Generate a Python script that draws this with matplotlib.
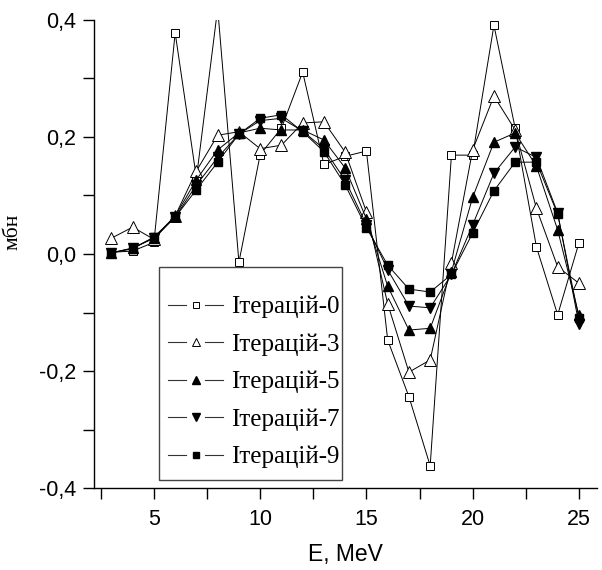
import matplotlib
matplotlib.use("Agg")
import matplotlib.pyplot as plt
import numpy as np
from matplotlib.ticker import MultipleLocator, FuncFormatter
from matplotlib.patches import Rectangle
from matplotlib.lines import Line2D
from matplotlib.legend_handler import HandlerBase

energy = np.arange(3, 26)

iter0 = [0.003, 0.005, 0.020, 0.378, 0.130, 0.420, -0.014, 0.170, 0.215, 0.311, 0.153, 0.167,
         0.176, -0.147, -0.244, -0.362, 0.169, 0.169, 0.391, 0.215, 0.012, -0.104, 0.019]
iter3 = [0.027, 0.046, 0.025, 0.065, 0.142, 0.203, 0.209, 0.180, 0.186, 0.224, 0.226, 0.174,
         0.072, -0.085, -0.202, -0.181, -0.015, 0.178, 0.270, 0.212, 0.078, -0.022, -0.050]
iter5 = [0.002, 0.010, 0.028, 0.065, 0.127, 0.178, 0.207, 0.215, 0.212, 0.212, 0.195, 0.147,
         0.060, -0.055, -0.130, -0.127, -0.030, 0.097, 0.191, 0.207, 0.150, 0.041, -0.105]
iter7 = [0.002, 0.010, 0.027, 0.063, 0.118, 0.165, 0.205, 0.228, 0.232, 0.210, 0.180, 0.126,
         0.050, -0.027, -0.089, -0.092, -0.035, 0.050, 0.138, 0.183, 0.165, 0.070, -0.120]
iter9 = [0.002, 0.009, 0.029, 0.063, 0.110, 0.157, 0.205, 0.232, 0.238, 0.209, 0.175, 0.118,
         0.045, -0.019, -0.060, -0.065, -0.035, 0.036, 0.108, 0.157, 0.157, 0.068, -0.110]

labels = ["Ітерацій-0", "Ітерацій-3", "Ітерацій-5", "Ітерацій-7", "Ітерацій-9"]


class GapLineHandler(HandlerBase):
    # line - marker - line, with small gaps around the marker (Origin style)
    def create_artists(self, legend, orig, xd, yd, width, height, fontsize, trans):
        y = height / 2 - yd
        gap = 0.17 * width
        mid = width / 2 - xd
        left = Line2D([-xd, mid - gap], [y, y], color="#333333", lw=0.8, transform=trans)
        right = Line2D([mid + gap, width - xd], [y, y], color="#333333", lw=0.8, transform=trans)
        mk = Line2D([mid], [y], ls="", marker=orig.get_marker(), ms=orig.get_markersize() * 0.75,
                    mfc=orig.get_markerfacecolor(), mec=orig.get_markeredgecolor(),
                    mew=orig.get_markeredgewidth(), transform=trans)
        return [left, right, mk]


fig = plt.figure(figsize=(6.02, 5.70), dpi=100)
ax = fig.add_axes([94/602, 1-488/570, 503/602, 468/570])

lw = 0.7
ax.plot(energy, iter0, color="black", lw=lw, marker="s", ms=5.5, mfc="white", mec="black", mew=0.7, label=labels[0])
ax.plot(energy, iter3, color="black", lw=lw, marker="^", ms=8, mfc="white", mec="black", mew=0.7, label=labels[1])
ax.plot(energy, iter5, color="black", lw=lw, marker="^", ms=7, mfc="black", mec="black", label=labels[2])
ax.plot(energy, iter7, color="black", lw=lw, marker="v", ms=7, mfc="black", mec="black", label=labels[3])
ax.plot(energy, iter9, color="black", lw=lw, marker="s", ms=6, mfc="black", mec="black", label=labels[4])

ax.set_xlim(2.18, 25.85)
ax.set_ylim(-0.4, 0.4)
ax.xaxis.set_major_locator(MultipleLocator(5))
ax.xaxis.set_minor_locator(MultipleLocator(2.5))
ax.yaxis.set_major_locator(MultipleLocator(0.2))
ax.yaxis.set_minor_locator(MultipleLocator(0.1))
ax.yaxis.set_major_formatter(FuncFormatter(lambda v, p: ("%.1f" % v).replace(".", ",")))

for s in ["top", "right"]:
    ax.spines[s].set_visible(False)
for s in ["left", "bottom"]:
    ax.spines[s].set_linewidth(1.0)

ax.tick_params(which="both", direction="out", length=8, width=1.0)
ax.tick_params(axis="x", which="major", labelsize=15.5, pad=7)
ax.tick_params(axis="y", which="major", labelsize=15.5, pad=5)
for t in ax.get_xticklabels() + ax.get_yticklabels():
    t.set_family("Liberation Sans")

ax.set_xlabel("E, MeV", fontsize=16.5, family="Liberation Sans")
ax.xaxis.set_label_coords(0.5, -0.118)
ax.set_ylabel("мбн", fontsize=15.5, family="Liberation Serif")
ax.yaxis.set_label_coords(-0.142, 0.547)

# legend box drawn separately (extra padding on top like the original)
box = Rectangle((159/602, 1-480/570), 183/602, 213/570, transform=fig.transFigure,
                facecolor="white", edgecolor="#444444", lw=1.0, zorder=4.5, clip_on=False)
ax.add_patch(box)

handles, labs = ax.get_legend_handles_labels()
leg = ax.legend(handles, labs, loc="upper left", bbox_to_anchor=(168/602, 1-296/570),
                bbox_transform=fig.transFigure, handler_map={Line2D: GapLineHandler()},
                borderaxespad=0, borderpad=0, frameon=False,
                handlelength=2.2, handletextpad=0.32, labelspacing=0.6,
                prop={"family": "Liberation Serif", "size": 18})
leg.set_zorder(6)

fig.savefig("out.png", dpi=100)
